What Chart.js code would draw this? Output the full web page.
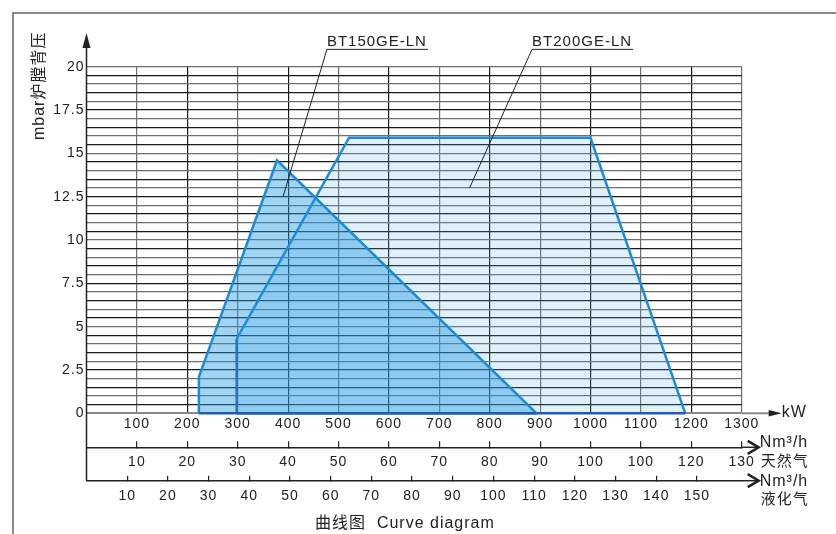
<!DOCTYPE html>
<html>
<head>
<meta charset="utf-8">
<script src="https://cdn.jsdelivr.net/npm/chart.js@4.4.1/dist/chart.umd.min.js"></script>
<style>
  html, body { margin: 0; padding: 0; background: #fff; }
  #wrap { width: 836px; height: 534px; }
</style>
</head>
<body>
<div id="wrap"><canvas id="chart" width="836" height="534"></canvas></div>
<script>
// Working ranges: power (kW) vs combustion chamber back pressure (mbar)
const bt150Power = [223, 223, 378, 893, 223];
const bt150Pressure = [0, 2.1, 14.6, 0, 0];
const bt200Power = [298, 298, 521, 1000, 1188, 298];
const bt200Pressure = [0, 4.3, 15.9, 15.9, 0, 0];

// Axis ticks and labels
const kwTicks = [100, 200, 300, 400, 500, 600, 700, 800, 900, 1000, 1100, 1200, 1300];
const kwTickLabels = ['100', '200', '300', '400', '500', '600', '700', '800', '900', '1000', '1100', '1200', '1300'];
const ngTicks = [10, 20, 30, 40, 50, 60, 70, 80, 90, 100, 110, 120, 130];
const ngTickLabels = ['10', '20', '30', '40', '50', '60', '70', '80', '90', '100', '100', '120', '130'];
const lpgTicks = [10, 20, 30, 40, 50, 60, 70, 80, 90, 100, 110, 120, 130, 140, 150];
const lpgTickLabels = ['10', '20', '30', '40', '50', '60', '70', '80', '90', '100', '110', '120', '130', '140', '150'];
const yTickLabels = ['0', '2.5', '5', '7.5', '10', '12.5', '15', '17.5', '20'];

// Callouts (data units): label anchor and leader target
const callouts = [
    { text: 'BT150GE-LN', at: [477, 21], to: [390, 12.5] },
    { text: 'BT200GE-LN', at: [884, 21], to: [760, 13] }
];

const FONT = '"Liberation Sans", Arial, "Noto Sans CJK SC", sans-serif';
const LINE_BLUE = '#1b8bd6';
const EDGE_BLUE = '#1d5fae';
const INK = '#222';

Chart.defaults.font.family = FONT;
Chart.defaults.font.size = 14;
Chart.defaults.color = INK;

function toPoints(xs, ys) {
    return xs.map((x, i) => ({ x: x, y: ys[i] }));
}

function edgeColor(darkVertical) {
    return (ctx) => {
        const a = ctx.p0.parsed, b = ctx.p1.parsed;
        if (a.y === 0 && b.y === 0) return EDGE_BLUE;
        if (darkVertical && a.x === b.x) return EDGE_BLUE;
        return LINE_BLUE;
    };
}

const decor = {
    id: 'decor',
    beforeDraw(chart) {
        const ctx = chart.ctx;
        ctx.save();
        ctx.fillStyle = '#fff';
        ctx.fillRect(0, 0, chart.width, chart.height);
        ctx.restore();
        ctx.letterSpacing = '1px';
    },
    afterDraw(chart) {
        const ctx = chart.ctx;
        const area = chart.chartArea;
        const sx = chart.scales.x, sy = chart.scales.y;
        const ng = chart.scales.xNG, lpg = chart.scales.xLPG;

        ctx.save();

        // outer frame (top and left only visible)
        ctx.strokeStyle = '#8a8a8a';
        ctx.lineWidth = 2;
        ctx.beginPath();
        ctx.moveTo(13, chart.height + 5);
        ctx.lineTo(13, 13);
        ctx.lineTo(chart.width + 5, 13);
        ctx.stroke();

        // kW axis extension and arrow
        const by = area.bottom;
        ctx.strokeStyle = '#888';
        ctx.lineWidth = 2;
        ctx.beginPath();
        ctx.moveTo(area.right, by);
        ctx.lineTo(area.right + 28, by);
        ctx.stroke();
        ctx.fillStyle = INK;
        ctx.beginPath();
        ctx.moveTo(area.right + 27, by - 3.2);
        ctx.lineTo(area.right + 40, by);
        ctx.lineTo(area.right + 27, by + 3.2);
        ctx.closePath();
        ctx.fill();

        // gas flow axes: extension and open arrow
        [ng, lpg].forEach((s) => {
            const y = s.top;
            ctx.strokeStyle = INK;
            ctx.lineWidth = 1.5;
            ctx.beginPath();
            ctx.moveTo(area.right, y);
            ctx.lineTo(area.right + 16, y);
            ctx.stroke();
            ctx.lineWidth = 2.5;
            ctx.beginPath();
            ctx.moveTo(area.right + 6, y - 6.5);
            ctx.lineTo(area.right + 17, y);
            ctx.lineTo(area.right + 6, y + 6.5);
            ctx.stroke();
        });

        // y axis with arrow
        ctx.strokeStyle = INK;
        ctx.lineWidth = 1.5;
        ctx.beginPath();
        ctx.moveTo(area.left, lpg.top);
        ctx.lineTo(area.left, 46);
        ctx.stroke();
        ctx.fillStyle = INK;
        ctx.beginPath();
        ctx.moveTo(area.left - 4, 48);
        ctx.lineTo(area.left, 33);
        ctx.lineTo(area.left + 4, 48);
        ctx.closePath();
        ctx.fill();

        // unit labels
        ctx.fillStyle = INK;
        ctx.textAlign = 'left';
        ctx.textBaseline = 'middle';
        ctx.font = '16px ' + FONT;
        ctx.fillText('kW', area.right + 40, by - 1);
        ctx.fillText('Nm\u00B3/h', area.right + 18, ng.top - 4.5);
        ctx.fillText('Nm\u00B3/h', area.right + 18, lpg.top + 0.5);
        ctx.font = '15px ' + FONT;
        ctx.fillText('天然气', area.right + 19, ng.top + 15);
        ctx.fillText('液化气', area.right + 19, lpg.top + 19.5);

        // y title
        ctx.save();
        ctx.translate(40, 140);
        ctx.rotate(-Math.PI / 2);
        ctx.font = '16px ' + FONT;
        ctx.textAlign = 'left';
        ctx.textBaseline = 'middle';
        ctx.fillText('mbar炉膛背压', 0, 0);
        ctx.restore();

        // callouts with leaders
        ctx.font = '15px ' + FONT;
        ctx.textBaseline = 'alphabetic';
        callouts.forEach((c) => {
            const x0 = sx.getPixelForValue(c.at[0]);
            const y0 = sy.getPixelForValue(c.at[1]);
            const x1 = sx.getPixelForValue(c.to[0]);
            const y1 = sy.getPixelForValue(c.to[1]);
            const w = ctx.measureText(c.text).width;
            ctx.fillStyle = INK;
            ctx.fillText(c.text, x0, y0 - 3.5);
            ctx.strokeStyle = INK;
            ctx.lineWidth = 1;
            ctx.beginPath();
            ctx.moveTo(x0 + w + 1, y0);
            ctx.lineTo(x0, y0);
            ctx.lineTo(x1, y1);
            ctx.stroke();
        });

        // caption
        ctx.font = '16px ' + FONT;
        ctx.textBaseline = 'middle';
        ctx.fillText('曲线图  Curve diagram', 315, 524);

        ctx.restore();
    }
};

new Chart(document.getElementById('chart'), {
    type: 'line',
    data: {
        datasets: [
            {
                label: 'BT150GE-LN',
                data: toPoints(bt150Power, bt150Pressure),
                borderColor: LINE_BLUE,
                backgroundColor: 'rgba(30, 150, 225, 0.42)',
                borderWidth: 2.5,
                borderJoinStyle: 'miter',
                fill: 'origin',
                pointRadius: 0,
                tension: 0,
                clip: false,
                segment: { borderColor: edgeColor(false) }
            },
            {
                label: 'BT200GE-LN',
                data: toPoints(bt200Power, bt200Pressure),
                borderColor: LINE_BLUE,
                backgroundColor: 'rgba(100, 180, 235, 0.2)',
                borderWidth: 2.5,
                borderJoinStyle: 'miter',
                fill: 'origin',
                pointRadius: 0,
                tension: 0,
                clip: false,
                segment: { borderColor: edgeColor(true) }
            }
        ]
    },
    options: {
        responsive: false,
        animation: false,
        events: [],
        layout: { padding: { top: 66.7, right: 94.3, bottom: 23.3, left: 0 } },
        plugins: {
            legend: { display: false },
            tooltip: { enabled: false }
        },
        scales: {
            x: {
                type: 'linear',
                position: 'bottom',
                min: 0,
                max: 1300,
                afterBuildTicks: (s) => { s.ticks = kwTicks.map((v) => ({ value: v })); },
                afterFit: (s) => { s.height = 34; },
                ticks: {
                    autoSkip: false,
                    maxRotation: 0,
                    padding: 2.5,
                    callback: (v, i) => kwTickLabels[i]
                },
                grid: {
                    drawTicks: false,
                    color: (ctx) => (ctx.index % 2 === 0 ? '#6e6e6e' : '#1a1a1a'),
                    lineWidth: 1.2
                },
                border: { display: false }
            },
            xNG: {
                type: 'linear',
                position: 'bottom',
                min: 0,
                max: 130,
                afterBuildTicks: (s) => { s.ticks = ngTicks.map((v) => ({ value: v })); },
                afterFit: (s) => { s.height = 33.4; },
                ticks: {
                    autoSkip: false,
                    maxRotation: 0,
                    padding: 12.5,
                    callback: (v, i) => ngTickLabels[i]
                },
                grid: { drawOnChartArea: false, drawTicks: true, tickLength: -6, color: INK, lineWidth: 1.2 },
                border: { display: true, color: INK, width: 1.5 }
            },
            xLPG: {
                type: 'linear',
                position: 'bottom',
                min: 0,
                max: 161,
                afterBuildTicks: (s) => { s.ticks = lpgTicks.map((v) => ({ value: v })); },
                afterFit: (s) => { s.height = 30; },
                ticks: {
                    autoSkip: false,
                    maxRotation: 0,
                    padding: 12,
                    callback: (v, i) => lpgTickLabels[i]
                },
                grid: { drawOnChartArea: false, drawTicks: true, tickLength: -5, color: INK, lineWidth: 1.2 },
                border: { display: true, color: INK, width: 1.5 }
            },
            y: {
                type: 'linear',
                min: 0,
                max: 20,
                afterFit: (s) => { s.width = 86.5; },
                ticks: {
                    stepSize: 0.5,
                    autoSkip: false,
                    padding: 2,
                    callback: (v) => {
                        const k = Math.round(v * 2);
                        return k % 5 === 0 ? yTickLabels[k / 5] : '';
                    }
                },
                grid: {
                    drawTicks: false,
                    color: (ctx) => {
                        if (ctx.tick && ctx.tick.value === 0) return '#888';
                        return ctx.index % 2 === 0 ? '#6e6e6e' : '#1a1a1a';
                    },
                    lineWidth: (ctx) => (ctx.tick && ctx.tick.value === 0 ? 2 : 1.2)
                },
                border: { display: false }
            }
        }
    },
    plugins: [decor]
});
</script>
</body>
</html>
